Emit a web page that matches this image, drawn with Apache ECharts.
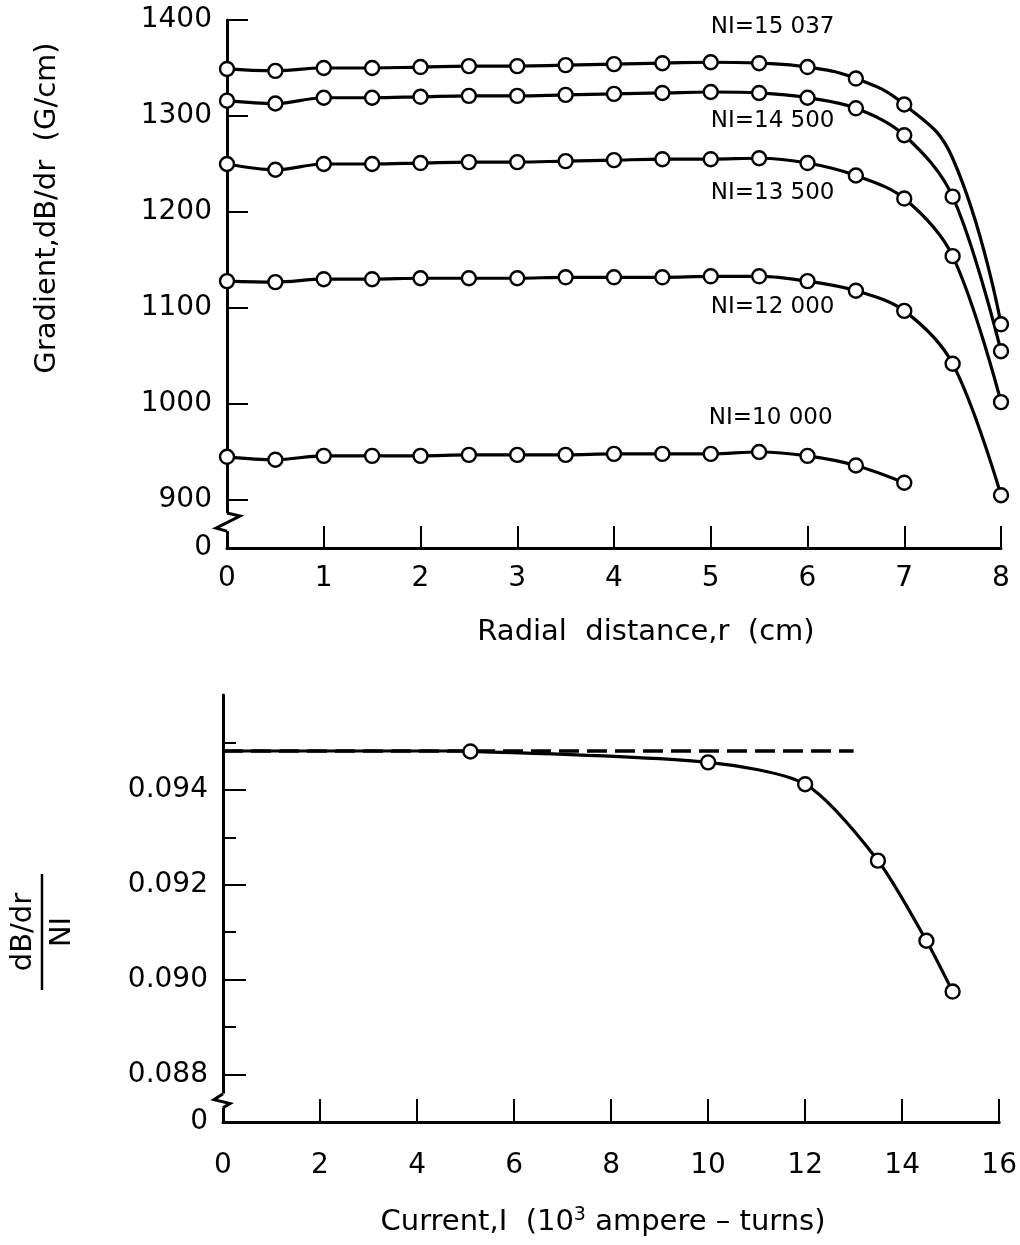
<!DOCTYPE html>
<html><head><meta charset="utf-8">
<script src="https://cdn.jsdelivr.net/npm/echarts@6/dist/echarts.min.js"></script>
<style>html,body{margin:0;padding:0;background:#fff}#c{width:1020px;height:1245px}</style>
</head><body><div id="c"></div>
<script>
// ---------- data (top panel: gradient vs radial distance) ----------
// NI=15 037 has no measured point at r=7.5; the value there is read off the drawn curve (no marker)
const r_NI15037 = [0,0.5,1,1.5,2,2.5,3,3.5,4,4.5,5,5.5,6,6.5,7,7.5,8];
const g_NI15037 = [1349,1347,1350,1350,1351,1352,1352,1353,1354,1355,1356,1355,1351,1339,1312,1256,1083];
const noMarker_NI15037 = [7.5];
const r_NI14500 = [0,0.5,1,1.5,2,2.5,3,3.5,4,4.5,5,5.5,6,6.5,7,7.5,8];
const g_NI14500 = [1316,1313,1319,1319,1320,1321,1321,1322,1323,1324,1325,1324,1319,1308,1280,1216,1055];
const r_NI13500 = [0,0.5,1,1.5,2,2.5,3,3.5,4,4.5,5,5.5,6,6.5,7,7.5,8];
const g_NI13500 = [1250,1244,1250,1250,1251,1252,1252,1253,1254,1255,1255,1256,1251,1238,1214,1154,1002];
const r_NI12000 = [0,0.5,1,1.5,2,2.5,3,3.5,4,4.5,5,5.5,6,6.5,7,7.5,8];
const g_NI12000 = [1128,1127,1130,1130,1131,1131,1131,1132,1132,1132,1133,1133,1128,1118,1097,1042,905];
const r_NI10000 = [0,0.5,1,1.5,2,2.5,3,3.5,4,4.5,5,5.5,6,6.5,7];
const g_NI10000 = [945,942,946,946,946,947,947,947,948,948,948,950,946,936,918];
const curveNames = ['NI=15 037','NI=14 500','NI=13 500','NI=12 000','NI=10 000'];
const curveLabelR = [5,5,5,5,4.98];
const curveLabelG = [1393,1295,1220,1101,985];
const topXTicks = [0,1,2,3,4,5,6,7,8];
const topYTicks = [900,1000,1100,1200,1300,1400];
const topYMin = 850, topYMax = 1400;

// ---------- data (bottom panel: (dB/dr)/NI vs current) ----------
const currentI = [5.1,10,12,13.5,14.5,15.04];
const ratioG = [0.09481,0.09458,0.09412,0.09251,0.09082,0.08975];
const plateauI = [0,5.1];
const plateauDashI = [0,13];
const plateauG = 0.09482;
const botXTicks = [0,2,4,6,8,10,12,14,16];
const botYMajor = [0.088,0.090,0.092,0.094];
const botYMinor = [0.089,0.091,0.093,0.095];
const botYMin = 0.087, botYMax = 0.096;

// ---------- chart ----------
const FONT = 'DejaVu Sans';
const chart = echarts.init(document.getElementById('c'), null, {renderer:'canvas'});
const sym = {symbol:'circle', symbolSize:14, itemStyle:{color:'#fff', borderColor:'#000', borderWidth:2.4}};
const lineS = {color:'#000', width:3.2};
function curve(name, xs, ys, noMarker, sm){
  const data = xs.map((x,i)=> (noMarker && noMarker.indexOf(x)>=0)
      ? {value:[x, ys[i]], symbol:'none'} : [x, ys[i]]);
  return Object.assign({type:'line', name, xAxisIndex:0, yAxisIndex:0, data,
    smooth:sm || 0.35, lineStyle:lineS, z:3, showAllSymbol:true}, sym);
}
const axisLabelStyle = {color:'#000', fontFamily:FONT, fontSize:28};

const option = {
  animation:false,
  backgroundColor:'#fff',
  grid:[
    {left:227, right:19, top:20, height:528},
    {left:223, right:18, top:695, height:427}
  ],
  xAxis:[
    {gridIndex:0, type:'value', position:'bottom', min:0, max:8, interval:1,
     axisLine:{onZero:false, lineStyle:{color:'#000', width:3}},
     axisTick:{inside:true, length:22, lineStyle:{color:'#000', width:2}, customValues:topXTicks},
     axisLabel:Object.assign({margin:17, customValues:topXTicks}, axisLabelStyle),
     splitLine:{show:false}},
    {gridIndex:1, type:'value', position:'bottom', min:0, max:16, interval:2,
     axisLine:{onZero:false, lineStyle:{color:'#000', width:3}},
     axisTick:{inside:true, length:23, lineStyle:{color:'#000', width:2}, customValues:botXTicks},
     axisLabel:Object.assign({margin:30, customValues:botXTicks}, axisLabelStyle),
     splitLine:{show:false}}
  ],
  yAxis:[
    {gridIndex:0, type:'value', position:'left', min:topYMin, max:topYMax,
     axisLine:{onZero:false, lineStyle:{color:'#000', width:3}},
     axisTick:{inside:true, length:21, lineStyle:{color:'#000', width:2}, customValues:topYTicks},
     axisLabel:Object.assign({margin:15, customValues:[topYMin].concat(topYTicks),
        formatter:v=> v===topYMin ? '0' : String(v)}, axisLabelStyle),
     splitLine:{show:false}},
    {gridIndex:1, type:'value', position:'left', min:botYMin, max:botYMax,
     axisLine:{onZero:false, lineStyle:{color:'#000', width:3}},
     axisTick:{inside:true, length:23, lineStyle:{color:'#000', width:2}, customValues:botYMajor},
     axisLabel:Object.assign({margin:15, customValues:[botYMin].concat(botYMajor),
        formatter:v=> Math.abs(v-botYMin)<1e-9 ? '0' : v.toFixed(3)}, axisLabelStyle),
     splitLine:{show:false}},
    {gridIndex:1, type:'value', position:'left', offset:0, min:botYMin, max:botYMax,
     axisLine:{show:false, onZero:false},
     axisTick:{inside:true, length:13, lineStyle:{color:'#000', width:2}, customValues:botYMinor},
     axisLabel:{show:false}, splitLine:{show:false}}
  ],
  series:[
    curve('NI=15037', r_NI15037, g_NI15037, noMarker_NI15037, 0.45),
    curve('NI=14500', r_NI14500, g_NI14500),
    curve('NI=13500', r_NI13500, g_NI13500),
    curve('NI=12000', r_NI12000, g_NI12000),
    curve('NI=10000', r_NI10000, g_NI10000),
    {type:'scatter', xAxisIndex:0, yAxisIndex:0, symbolSize:0, silent:true,
     data:curveLabelR.map((r,i)=>({value:[r, curveLabelG[i]], name:curveNames[i]})),
     label:{show:true, position:'right', distance:0, formatter:p=>p.name,
            color:'#000', opacity:1, fontFamily:FONT, fontSize:23}},
    {type:'line', xAxisIndex:1, yAxisIndex:1, data:plateauDashI.map(x=>[x, plateauG]),
     symbol:'none', lineStyle:{color:'#000', width:3.5, type:[20,8]}, z:2},
    {type:'line', xAxisIndex:1, yAxisIndex:1, data:plateauI.map(x=>[x, plateauG]),
     symbol:'none', lineStyle:{color:'#000', width:3.2}, z:3},
    Object.assign({type:'line', xAxisIndex:1, yAxisIndex:1,
     data:currentI.map((x,i)=>[x, ratioG[i]]),
     smooth:0.25, lineStyle:lineS, z:4, showAllSymbol:true}, sym)
  ]
};
chart.setOption(option);

// ---------- decorations: titles, axis breaks ----------
function breakMark(xAxisIdx, yAxisIdx, val, big){
  const ax = chart.convertToPixel({xAxisIndex:xAxisIdx}, 0);
  const yb = chart.convertToPixel({yAxisIndex:yAxisIdx}, val);
  const h = big ? 9 : 7;
  const pts = big
    ? [[ax, yb-h],[ax+13, yb-h+3],[ax-11, yb+h-3],[ax, yb+h]]
    : [[ax, yb-h],[ax-9, yb-1],[ax+7, yb+3],[ax, yb+h]];
  return [
    {type:'rect', z:100, shape:{x:ax-4, y:yb-h, width:8, height:2*h}, style:{fill:'#fff'}},
    {type:'polyline', z:101, shape:{points:pts}, style:{stroke:'#000', lineWidth:3, fill:null}}
  ];
}
const tStyle = {fill:'#000', fontFamily:FONT, fontSize:29};
const graphics = [].concat(
  breakMark(0, 0, 877, true),
  breakMark(1, 1, 0.08745, false),
  [
    {type:'text', x:47, y:208, rotation:Math.PI/2,
     style:Object.assign({text:'Gradient,dB/dr  (G/cm)', align:'center', verticalAlign:'middle'}, tStyle)},
    {type:'text', x:646, y:632,
     style:Object.assign({text:'Radial  distance,r  (cm)', align:'center', verticalAlign:'middle'}, tStyle)},
    {type:'text', x:603, y:1222,
     style:Object.assign({text:'Current,I  (10{sup|3} ampere – turns)', align:'center', verticalAlign:'middle',
        rich:{sup:{fontFamily:FONT, fontSize:19, verticalAlign:'top', padding:[0,0,14,0]}}}, tStyle)},
    {type:'group', x:42, y:932, rotation:Math.PI/2, children:[
      {type:'text', x:0, y:-19, style:Object.assign({text:'dB/dr', align:'center', verticalAlign:'middle'}, tStyle)},
      {type:'line', shape:{x1:-58, y1:0, x2:58, y2:0}, style:{stroke:'#000', lineWidth:2.5}},
      {type:'text', x:0, y:20, style:Object.assign({text:'NI', align:'center', verticalAlign:'middle'}, tStyle)}
    ]}
  ]
);
chart.setOption({graphic:graphics});
</script>
</body></html>
